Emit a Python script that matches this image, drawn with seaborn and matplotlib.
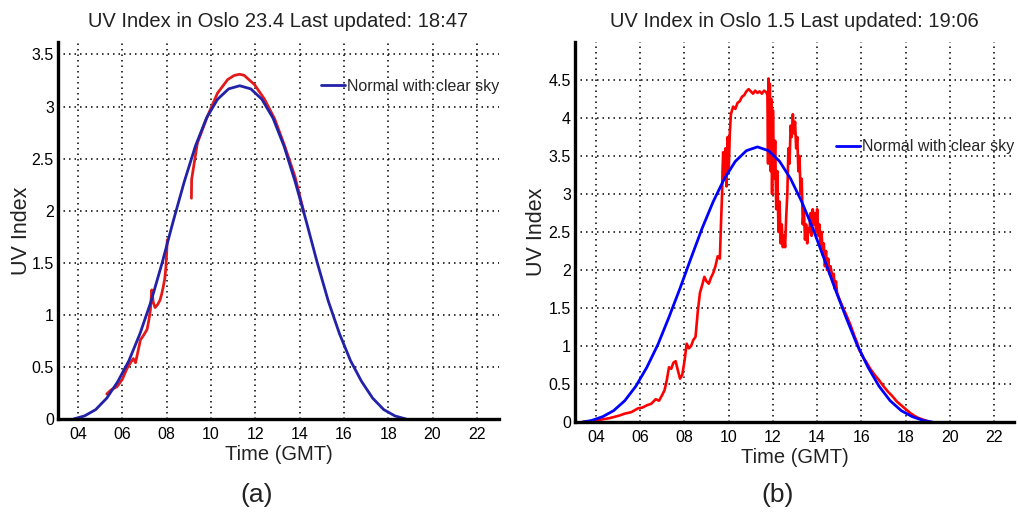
import matplotlib
matplotlib.use("Agg")
import matplotlib.pyplot as plt
import seaborn as sns
import pandas as pd

# ---------------- data ----------------
x_ticks = [4, 6, 8, 10, 12, 14, 16, 18, 20, 22]
x_tick_labels = ["04", "06", "08", "10", "12", "14", "16", "18", "20", "22"]
y_ticks_a = [0, 0.5, 1, 1.5, 2, 2.5, 3, 3.5]
y_ticks_b = [0, 0.5, 1, 1.5, 2, 2.5, 3, 3.5, 4, 4.5]
y_tick_labels_a = ["0", "0.5", "1", "1.5", "2", "2.5", "3", "3.5"]
y_tick_labels_b = ["0", "0.5", "1", "1.5", "2", "2.5", "3", "3.5", "4", "4.5"]

title_a = "UV Index in Oslo 23.4 Last updated: 18:47"
title_b = "UV Index in Oslo 1.5 Last updated: 19:06"
legend_label = "Normal with clear sky"

# panel (a): clear-sky normal
clear_a_time = [3.8, 4.3, 4.8, 5.3, 5.8, 6.3, 6.8, 7.3, 7.8, 8.3, 8.8, 9.3, 9.8, 10.3, 10.8,
                11.3, 11.8, 12.3, 12.8, 13.3, 13.8, 14.3, 14.8, 15.3, 15.8, 16.3, 16.8,
                17.3, 17.8, 18.3, 18.8]
clear_a_uv = [0.00, 0.03, 0.09, 0.20, 0.36, 0.56, 0.82, 1.13, 1.50, 1.90, 2.28, 2.62, 2.89, 3.07, 3.17,
              3.20, 3.17, 3.07, 2.89, 2.62, 2.28, 1.90, 1.50, 1.13, 0.82, 0.56, 0.36,
              0.20, 0.09, 0.03, 0.00]

# panel (a): measured, morning part
meas_a1_time = [5.3, 5.5, 5.76, 6.0, 6.2, 6.4, 6.5, 6.6, 6.82, 6.95, 7.12, 7.2, 7.27, 7.33, 7.4,
                7.48, 7.6, 7.7, 7.78, 7.85, 7.92, 7.97, 8.0, 8.03]
meas_a1_uv = [0.24, 0.28, 0.31, 0.38, 0.48, 0.55, 0.58, 0.54, 0.76, 0.80, 0.86, 0.95, 1.05, 1.24, 1.12,
              1.07, 1.10, 1.14, 1.20, 1.27, 1.35, 1.46, 1.58, 1.72]

# panel (a): measured, midday part
meas_a2_time = [9.12, 9.13, 9.39, 9.85, 10.3, 10.76, 11.06, 11.3, 11.5, 11.97, 12.42, 12.88,
                13.33, 13.79, 14.2]
meas_a2_uv = [2.12, 2.30, 2.65, 2.91, 3.13, 3.26, 3.30, 3.31, 3.30, 3.21, 3.07, 2.88,
              2.62, 2.33, 1.98]

# panel (b): clear-sky normal
clear_b_time = [3.4, 3.8, 4.3, 4.8, 5.3, 5.8, 6.3, 6.8, 7.3, 7.8, 8.3, 8.8, 9.3, 9.8, 10.3, 10.8,
                11.3, 11.8, 12.3, 12.8, 13.3, 13.8, 14.3, 14.8, 15.3, 15.8, 16.3, 16.8,
                17.3, 17.8, 18.3, 18.8, 19.2]
clear_b_uv = [0.00, 0.02, 0.07, 0.15, 0.28, 0.47, 0.72, 1.02, 1.38, 1.76, 2.16, 2.55, 2.90, 3.20, 3.43, 3.57,
              3.62, 3.57, 3.43, 3.20, 2.90, 2.55, 2.16, 1.76, 1.38, 1.02, 0.72, 0.47,
              0.28, 0.15, 0.07, 0.02, 0.00]

# panel (b): measured
meas_b_time = [3.4, 3.8, 4.2, 4.6, 5.0, 5.3, 5.6, 5.9, 6.1, 6.3, 6.5, 6.7, 6.85, 7.0, 7.1, 7.2,
               7.3, 7.4, 7.5, 7.6, 7.7, 7.8, 7.9, 8.0, 8.1, 8.2, 8.3, 8.4, 8.5, 8.6, 8.7, 8.8,
               8.9, 9.0, 9.1, 9.2, 9.3, 9.4, 9.5, 9.6,
               9.65, 9.7, 9.72, 9.75, 9.8, 9.85, 9.9, 9.95, 10.0, 10.05, 10.1, 10.15, 10.2,
               10.3, 10.4, 10.5, 10.6, 10.7, 10.8, 10.9, 11.0, 11.1, 11.2, 11.3, 11.4, 11.5,
               11.6, 11.7, 11.75, 11.78, 11.8, 11.83, 11.86, 11.9, 11.93, 11.96, 12.0, 12.05,
               12.1, 12.15, 12.2, 12.25, 12.3, 12.35, 12.4, 12.45, 12.5, 12.55, 12.6, 12.65,
               12.7, 12.75, 12.8, 12.85, 12.9, 12.95, 13.0, 13.05, 13.1, 13.15, 13.2, 13.25,
               13.3, 13.35, 13.4, 13.45, 13.5, 13.55, 13.6, 13.65, 13.7, 13.75, 13.8, 13.85,
               13.9, 13.95, 14.0, 14.05, 14.1, 14.15, 14.2, 14.25, 14.3, 14.35, 14.4, 14.45,
               14.5, 14.55, 14.6, 14.7, 14.75, 14.8, 14.85, 14.9, 15.0, 15.1, 15.2, 15.3,
               15.4, 15.5, 15.6, 15.7, 15.8, 15.9, 16.0, 16.1, 16.2, 16.4, 16.6, 16.8, 17.0,
               17.2, 17.4, 17.6, 17.8, 18.0, 18.2, 18.4, 18.6, 18.8, 19.0]
meas_b_uv = [0.00, 0.01, 0.03, 0.05, 0.08, 0.11, 0.13, 0.18, 0.19, 0.22, 0.24, 0.30, 0.28, 0.36, 0.42, 0.55,
             0.72, 0.70, 0.78, 0.80, 0.68, 0.57, 0.62, 0.80, 1.03, 0.97, 1.00, 1.08, 1.12, 1.45, 1.70, 1.80,
             1.91, 1.85, 1.82, 1.90, 1.96, 2.05, 2.18, 2.15,
             2.60, 3.00, 3.30, 3.55, 3.20, 3.60, 3.10, 3.75, 3.30, 3.80, 4.05, 4.10, 4.15,
             4.12, 4.20, 4.22, 4.28, 4.30, 4.35, 4.38, 4.35, 4.32, 4.36, 4.33, 4.35, 4.32,
             4.36, 4.34, 4.30, 3.40, 4.52, 3.60, 4.45, 3.30, 4.25, 3.00, 4.10, 3.20,
             3.70, 2.80, 3.30, 2.50, 2.90, 2.35, 2.60, 2.30, 2.45, 2.30, 2.70, 3.00,
             3.60, 3.40, 3.90, 3.75, 4.05, 3.80, 3.95, 3.60, 3.75, 3.30, 3.50, 3.00,
             3.20, 2.60, 2.80, 2.40, 2.60, 2.35, 2.55, 2.50, 2.75, 2.45, 2.80, 2.60,
             2.75, 2.50, 2.80, 2.45, 2.60, 2.30, 2.50, 2.20, 2.35, 2.05, 2.25, 2.00,
             2.15, 1.95, 2.05, 1.90, 1.95, 1.75, 1.85, 1.70, 1.62, 1.55, 1.48, 1.42,
             1.35, 1.28, 1.20, 1.12, 1.05, 0.95, 0.90, 0.84, 0.80, 0.70, 0.62, 0.55, 0.47,
             0.40, 0.34, 0.27, 0.22, 0.17, 0.12, 0.08, 0.05, 0.03, 0.01]

# ---------------- style ----------------
sns.set_style("white")
plt.rcParams["font.family"] = ["Liberation Sans", "DejaVu Sans"]

W, H = 1018, 523
fig = plt.figure(figsize=(W / 100, H / 100), dpi=100)

def px_axes(x0, y0, x1, y1):
    return fig.add_axes([x0 / W, 1 - y1 / H, (x1 - x0) / W, (y1 - y0) / H])

ax_a = px_axes(58, 42, 499, 419)
ax_b = px_axes(575, 42, 1014, 422)

red_a = "#e41a1a"
blue_a = "#2222a8"
red_b = "#ff0000"
blue_b = "#0000ff"

def draw_line(ax, t, v, color, lw, label=None):
    df = pd.DataFrame({"t": t, "uv": v})
    sns.lineplot(data=df, x="t", y="uv", ax=ax, color=color, linewidth=lw,
                 estimator=None, sort=False, label=label, legend=False)

draw_line(ax_a, meas_a1_time, meas_a1_uv, red_a, 2.0)
draw_line(ax_a, meas_a2_time, meas_a2_uv, red_a, 2.0)
draw_line(ax_a, clear_a_time, clear_a_uv, blue_a, 2.0, legend_label)

draw_line(ax_b, meas_b_time, meas_b_uv, red_b, 1.9)
draw_line(ax_b, clear_b_time, clear_b_uv, blue_b, 2.0, legend_label)

def style_axes(ax, title, yticks, ylabels, xlim, ylim, leg_y, ylabelpad):
    ax.set_xlim(*xlim)
    ax.set_ylim(*ylim)
    ax.set_xticks(x_ticks)
    ax.set_xticklabels(x_tick_labels)
    ax.set_yticks(yticks)
    ax.set_yticklabels(ylabels)
    ax.set_axisbelow(True)
    ax.grid(True, color="black", linestyle=(0, (1.0, 2.6)), linewidth=1.1)
    for s in ["top", "right"]:
        ax.spines[s].set_visible(False)
    for s in ["left", "bottom"]:
        ax.spines[s].set_linewidth(2.4)
        ax.spines[s].set_color("black")
    ax.tick_params(direction="in", length=4, width=2, labelsize=11.5, colors="black")
    ax.tick_params(axis="x", pad=6)
    ax.tick_params(axis="y", pad=3)
    ax.set_title(title, fontsize=14.5, pad=11, color="#222222")
    ax.set_xlabel("Time (GMT)", fontsize=14.5, labelpad=2, color="#222222")
    ax.set_ylabel("UV Index", fontsize=15.5, labelpad=ylabelpad, color="#222222")
    ax.legend(loc="center right", bbox_to_anchor=(1.0, leg_y), frameon=False,
              fontsize=11.5, handlelength=1.5, handletextpad=0.1,
              borderaxespad=0, borderpad=0)

style_axes(ax_a, title_a, y_ticks_a, y_tick_labels_a, (3.1, 23.0), (0, 3.62), 0.883, 0)
style_axes(ax_b, title_b, y_ticks_b, y_tick_labels_b, (3.05, 22.9), (0, 5.0), 0.724, 1)

fig.text(257 / W, 1 - 495 / H, "(a)", ha="center", va="center", fontsize=19, color="#222222")
fig.text(778 / W, 1 - 495 / H, "(b)", ha="center", va="center", fontsize=19, color="#222222")

fig.savefig("out.png", dpi=100)
